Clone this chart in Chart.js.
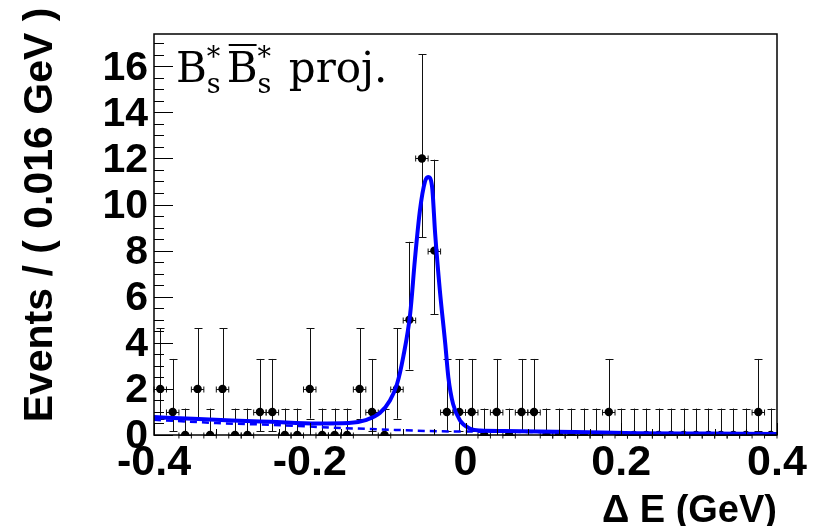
<!DOCTYPE html>
<html>
<head>
<meta charset="utf-8">
<script src="https://cdn.jsdelivr.net/npm/chart.js@4.4.1/dist/chart.umd.min.js"></script>
<style>
  html, body { margin: 0; padding: 0; background: #fff; }
  #wrap { width: 819px; height: 526px; }
</style>
</head>
<body>
<div id="wrap"><canvas id="deltaE" width="819" height="526"></canvas></div>
<script>
// binning of the Delta E histogram
const binLow = -0.4;
const binWidth = 0.016;
const counts = [2, 1, 0, 2, 0, 2, 0, 0, 1, 1,
                0, 0, 2, 0, 0, 0, 2, 1, 0, 2,
                5, 12, 8, 1, 1, 1, 0, 1, 0, 1,
                1, 0, 0, 0, 0, 0, 1, 0, 0, 0,
                0, 0, 0, 0, 0, 0, 0, 0, 1, 0];

// asymmetric poisson errors per bin content
const errLow  = { 0: 0, 1: 0.827, 2: 1.292, 5: 2.160, 8: 2.768, 12: 3.415 };
const errHigh = { 0: 1.148, 1: 2.300, 2: 2.638, 5: 3.382, 8: 3.945, 12: 4.531 };

// total fit projection
const fitX = [-0.40, -0.35, -0.30, -0.25, -0.19, -0.15, -0.127, -0.110, -0.097, -0.088,
              -0.080, -0.071, -0.065, -0.0585, -0.052, -0.048, -0.043, -0.039, -0.033, -0.026,
              -0.022, -0.016, -0.007, 0.006, 0.019, 0.05, 0.14, 0.22, 0.31, 0.40];
const fitY = [0.78, 0.70, 0.63, 0.57, 0.50, 0.52, 0.66, 0.95, 1.5, 2.2,
              3.38, 5.27, 7.6, 9.75, 11.0, 11.2, 10.8, 8.75, 6.3, 3.96,
              2.5, 1.35, 0.63, 0.27, 0.19, 0.17, 0.13, 0.08, 0.06, 0.04];

// background component (dashed)
const bkgX = [-0.40, -0.32, -0.25, -0.17, -0.09, -0.03, 0.05, 0.14, 0.22, 0.31, 0.40];
const bkgY = [0.66, 0.52, 0.44, 0.32, 0.22, 0.16, 0.14, 0.11, 0.07, 0.05, 0.03];

const xTicks = [-0.4, -0.2, 0, 0.2, 0.4];
const xTickLabels = ['-0.4', '-0.2', '0', '0.2', '0.4'];
const yTicks = [0, 2, 4, 6, 8, 10, 12, 14, 16];
const yMax = 17.4;

const dataPoints = counts.map((n, i) => ({ x: binLow + binWidth * (i + 0.5), y: n }));
const fitPoints = fitX.map((x, i) => ({ x: x, y: fitY[i] }));
const bkgPoints = bkgX.map((x, i) => ({ x: x, y: bkgY[i] }));

const sansBold = (px) => 'bold ' + px + 'px "Liberation Sans", Arial, sans-serif';

// error bars go under the markers and curves
const errorBars = {
    id: 'errorBars',
    beforeDatasetsDraw(chart) {
        const ctx = chart.ctx;
        const xs = chart.scales.x, ys = chart.scales.y;
        ctx.save();
        ctx.strokeStyle = '#111';
        ctx.lineWidth = 1;
        counts.forEach((n, i) => {
            const c = binLow + binWidth * (i + 0.5);
            const px = Math.round(xs.getPixelForValue(c)) + 0.5;
            const py = Math.round(ys.getPixelForValue(n)) + 0.5;
            const top = ys.getPixelForValue(n + errHigh[n]);
            const bot = ys.getPixelForValue(n - errLow[n]);
            const xl = xs.getPixelForValue(c - binWidth / 2);
            const xr = xs.getPixelForValue(c + binWidth / 2);
            ctx.beginPath();
            ctx.moveTo(px, bot); ctx.lineTo(px, top);
            ctx.moveTo(px - 4, Math.round(top) + 0.5); ctx.lineTo(px + 4, Math.round(top) + 0.5);
            if (errLow[n] > 0) {
                ctx.moveTo(px - 4, Math.round(bot) + 0.5); ctx.lineTo(px + 4, Math.round(bot) + 0.5);
            }
            ctx.moveTo(xl, py); ctx.lineTo(xr, py);
            ctx.moveTo(xl, py - 3); ctx.lineTo(xl, py + 3);
            ctx.moveTo(xr, py - 3); ctx.lineTo(xr, py + 3);
            ctx.stroke();
        });
        ctx.restore();
    }
};

// frame, inner ticks, labels and titles
const rootFrame = {
    id: 'rootFrame',
    afterDraw(chart) {
        const ctx = chart.ctx;
        const a = chart.chartArea;
        const xs = chart.scales.x, ys = chart.scales.y;
        ctx.save();
        ctx.strokeStyle = '#000';
        ctx.lineWidth = 1.5;
        ctx.strokeRect(a.left, a.top, a.right - a.left, a.bottom - a.top);

        // y ticks, major every 2, minor every 0.5
        ctx.lineWidth = 1;
        ctx.beginPath();
        for (let v = 0; v <= yMax; v += 0.5) {
            const py = Math.round(ys.getPixelForValue(v)) + 0.5;
            const len = (v % 2 === 0) ? 19 : 10;
            ctx.moveTo(a.left, py); ctx.lineTo(a.left + len, py);
        }
        // x ticks, major every 0.2, minor every 0.04
        for (let k = 0; k <= 20; k++) {
            const v = -0.4 + k * 0.04;
            const px = Math.round(xs.getPixelForValue(v)) + 0.5;
            const len = (k % 5 === 0) ? 12 : 6;
            ctx.moveTo(px, a.bottom); ctx.lineTo(px, a.bottom - len);
        }
        ctx.stroke();

        ctx.fillStyle = '#000';
        ctx.font = sansBold(41);
        ctx.textAlign = 'right';
        ctx.textBaseline = 'middle';
        yTicks.forEach(v => {
            ctx.fillText(String(v), a.left - 6, ys.getPixelForValue(v) + 2);
        });
        ctx.font = sansBold(43);
        ctx.textAlign = 'center';
        ctx.textBaseline = 'top';
        xTicks.forEach((v, i) => {
            ctx.fillText(xTickLabels[i], xs.getPixelForValue(v), a.bottom + 7);
        });

        // axis titles
        ctx.font = sansBold(38);
        ctx.textAlign = 'right';
        ctx.textBaseline = 'alphabetic';
        ctx.fillText('\u0394 E (GeV)', a.right, 522);
        ctx.save();
        ctx.font = sansBold(41);
        ctx.translate(52, 215);
        ctx.rotate(-Math.PI / 2);
        ctx.textAlign = 'center';
        ctx.fillText('Events / ( 0.016 GeV )', 0, 0);
        ctx.restore();

        // B_s* anti-B_s* label
        const big = '42px "DejaVu Serif", serif';
        const small = '27px "DejaVu Serif", serif';
        const base = 82;
        ctx.textAlign = 'left';
        let x = 176;
        ctx.font = big;
        ctx.fillText('B', x, base);
        x += ctx.measureText('B').width;
        ctx.font = small;
        ctx.fillText('s', x, base + 11);
        ctx.fillText('*', x, base - 16);
        x += Math.max(ctx.measureText('s').width, ctx.measureText('*').width) + 6;
        ctx.font = big;
        const wb = ctx.measureText('B').width;
        ctx.fillText('B', x, base);
        ctx.lineWidth = 2;
        ctx.beginPath();
        ctx.moveTo(x + 2, 45); ctx.lineTo(x + wb - 1, 45);
        ctx.stroke();
        x += wb;
        ctx.font = small;
        ctx.fillText('s', x, base + 11);
        ctx.fillText('*', x, base - 16);
        x += Math.max(ctx.measureText('s').width, ctx.measureText('*').width) + 4;
        ctx.font = big;
        ctx.fillText(' proj.', x, base);
        ctx.restore();
    }
};

const chart = new Chart(document.getElementById('deltaE'), {
    type: 'scatter',
    data: {
        datasets: [
            {
                type: 'line',
                label: 'fit',
                data: fitPoints,
                borderColor: '#0000ff',
                borderWidth: 4,
                pointRadius: 0,
                cubicInterpolationMode: 'monotone',
                fill: false
            },
            {
                type: 'line',
                label: 'background',
                data: bkgPoints,
                borderColor: '#0000ff',
                borderWidth: 2.5,
                borderDash: [7, 5],
                pointRadius: 0,
                cubicInterpolationMode: 'monotone',
                fill: false
            },
            {
                label: 'data',
                data: dataPoints,
                backgroundColor: '#000',
                borderWidth: 0,
                pointRadius: 4.2
            }
        ]
    },
    options: {
        responsive: false,
        animation: false,
        events: [],
        layout: { padding: { left: 154, right: 42, top: 34, bottom: 91 } },
        plugins: { legend: { display: false }, tooltip: { enabled: false } },
        scales: {
            x: { type: 'linear', min: -0.4, max: 0.4, display: false },
            y: { type: 'linear', min: 0, max: yMax, display: false }
        }
    },
    plugins: [errorBars, rootFrame]
});
</script>
</body>
</html>
